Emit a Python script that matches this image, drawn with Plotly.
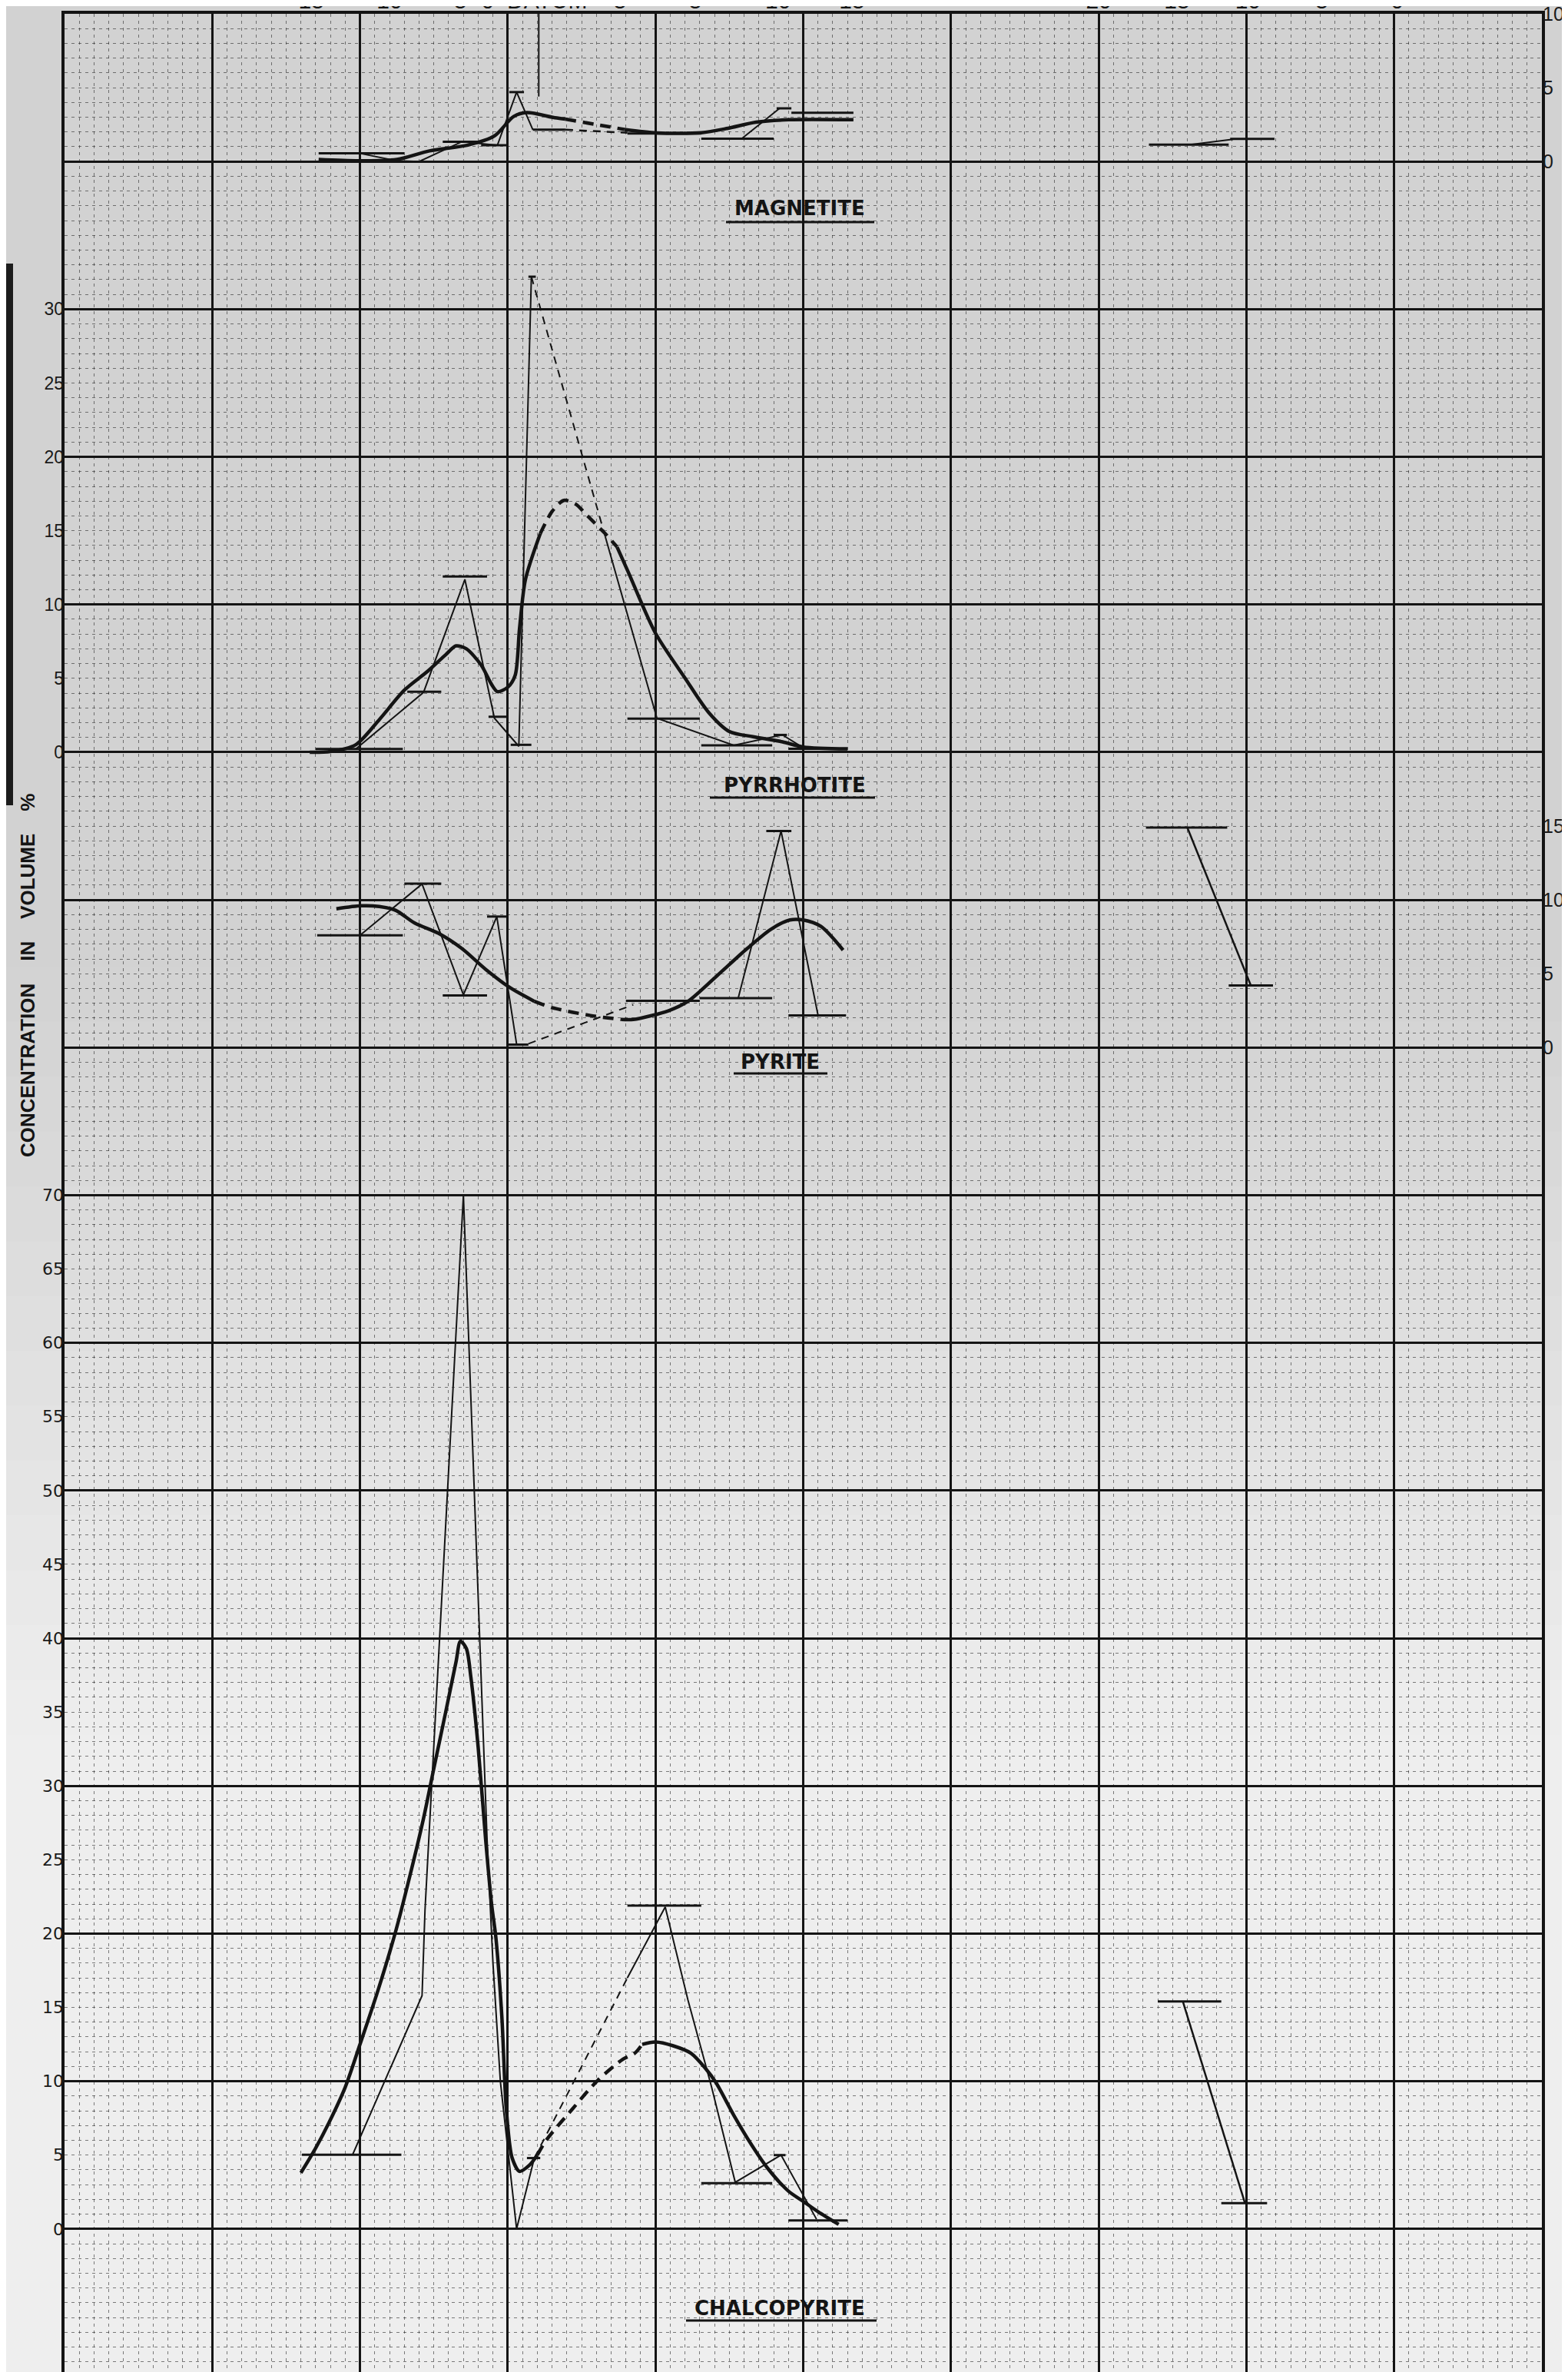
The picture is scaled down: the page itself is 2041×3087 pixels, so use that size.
import plotly.graph_objects as go

W, H = 2041, 3087
ML, MR, MT, MB = 76, 42, 10, 2

# ---------------- data (x = distance along profile, grid units; y = volume %) ----------------
# top distance labels
top_tick_x = [16.7, 22.0, 26.8, 31.8, 37.6, 42.7, 48.3, 53.3, 70.0, 75.3, 80.1, 85.1, 90.2]
top_tick_text = ["15", "10", "5", "0  DATUM", "5", "5", "10", "15", "20", "15", "10", "5", "0"]

# MAGNETITE
mag_bar_x0 = [17.2, 25.6, 28.2, 30.1, 31.7, 38.1, 43.1, 48.2, 49.2, 73.4, 78.9]
mag_bar_x1 = [23.0, 28.2, 30.0, 31.1, 33.9, 43.1, 48.0, 49.2, 53.4, 78.8, 81.9]
mag_bar_y = [0.55, 1.34, 1.10, 4.70, 2.15, 1.90, 1.55, 3.60, 3.30, 1.14, 1.53]
mag_thin_x = [20.0, 22.5, 24.0, 26.9, 29.3, 30.6, 31.7]
mag_thin_y = [0.55, 0.05, 0.0, 1.34, 1.10, 4.70, 2.15]
mag_thin2_x = [45.8, 48.4]
mag_thin2_y = [1.52, 3.60]
mag_thin3_x = [76.2, 79.1]
mag_thin3_y = [1.14, 1.50]
mag_gap_x = [33.9, 38.1]
mag_gap_y = [2.15, 1.95]
mag_mark_x = [32.1]
mag_mark_y = [4.4]
mag_curve1_x = [17.2, 19.9, 22.5, 24.7, 27.3, 29.1, 30.4, 31.3, 33.2, 33.9]
mag_curve1_y = [0.14, 0.05, 0.14, 0.72, 1.11, 1.73, 3.05, 3.31, 2.96, 2.87]
mag_curve_gap_x = [33.9, 35.9, 37.9]
mag_curve_gap_y = [2.87, 2.52, 2.17]
mag_curve2_x = [37.9, 40.1, 43.1, 44.9, 46.8, 49.0, 53.4]
mag_curve2_y = [2.17, 1.94, 1.95, 2.25, 2.66, 2.83, 2.83]

# PYRRHOTITE
pyr_bar_x0 = [17.0, 23.2, 25.6, 28.7, 30.2, 31.4, 38.1, 43.1, 48.0, 49.0]
pyr_bar_x1 = [22.9, 25.5, 28.6, 30.0, 31.6, 31.9, 43.0, 47.9, 48.9, 53.0]
pyr_bar_y = [0.22, 4.1, 11.9, 2.4, 0.5, 32.2, 2.27, 0.47, 1.17, 0.23]
pyr_thin_x = [19.7, 24.3, 27.1, 29.1, 30.75, 31.6]
pyr_thin_y = [0.2, 4.05, 11.7, 2.3, 0.4, 32.2]
pyr_gap_x = [31.6, 36.6]
pyr_gap_y = [32.2, 14.6]
pyr_thin2_x = [36.6, 40.1, 45.3, 48.6, 50.0]
pyr_thin2_y = [14.6, 2.3, 0.47, 1.17, 0.3]
pyr_curve1_x = [16.6, 18.0, 19.7, 21.3, 23.0, 24.6, 25.8, 26.5, 27.2, 28.2, 28.9, 29.3, 30.0, 30.5, 30.8, 31.2, 32.2]
pyr_curve1_y = [0.0, 0.05, 0.5, 2.2, 4.2, 5.5, 6.6, 7.2, 7.0, 5.9, 4.6, 4.1, 4.4, 5.2, 8.4, 11.7, 14.8]
pyr_curve_gap_x = [32.2, 33.0, 33.8, 34.6, 35.4, 36.6, 37.4]
pyr_curve_gap_y = [14.8, 16.3, 17.05, 16.8, 16.0, 14.8, 13.9]
pyr_curve2_x = [37.4, 38.2, 40.0, 42.0, 43.6, 45.0, 46.6, 48.6, 50.0, 53.0]
pyr_curve2_y = [13.9, 12.1, 8.06, 5.02, 2.69, 1.40, 1.05, 0.70, 0.35, 0.23]

# PYRITE
pyt_bar_x0 = [17.1, 23.0, 25.6, 28.6, 30.0, 38.0, 43.0, 47.5, 49.0, 73.2, 78.8]
pyt_bar_x1 = [22.9, 25.5, 28.6, 30.0, 31.4, 43.0, 47.9, 49.2, 52.9, 78.7, 81.8]
pyt_bar_y = [7.6, 11.1, 3.53, 8.87, 0.2, 3.17, 3.34, 14.66, 2.17, 14.9, 4.2]
pyt_thin_x = [20.0, 24.2, 27.0, 29.26, 30.6]
pyt_thin_y = [7.6, 11.08, 3.57, 8.87, 0.23]
pyt_gap_x = [31.4, 38.5]
pyt_gap_y = [0.26, 2.9]
pyt_thin2_x = [45.6, 48.5, 51.0]
pyt_thin2_y = [3.34, 14.66, 2.2]
pyt_thin3_x = [76.0, 80.3]
pyt_thin3_y = [14.9, 4.2]
pyt_curve1_x = [18.4, 20.1, 21.3, 22.4, 23.7, 25.3, 26.9, 28.5, 30.1, 31.8]
pyt_curve1_y = [9.4, 9.6, 9.55, 9.3, 8.43, 7.74, 6.7, 5.3, 4.09, 3.13]
pyt_curve_gap_x = [31.8, 33.0, 35.6, 37.7]
pyt_curve_gap_y = [3.13, 2.7, 2.17, 1.9]
pyt_curve2_x = [37.7, 38.5, 40.9, 42.2, 44.1, 46.2, 47.8, 49.1, 50.0, 51.2, 52.7]
pyt_curve2_y = [1.9, 1.9, 2.5, 3.13, 4.8, 6.7, 8.0, 8.64, 8.64, 8.2, 6.6]

# CHALCOPYRITE
cpy_bar_x0 = [16.07, 31.3, 38.1, 43.1, 48.0, 49.0, 74.0, 78.3]
cpy_bar_x1 = [22.8, 32.2, 43.1, 47.9, 48.8, 53.0, 78.3, 81.4]
cpy_bar_y = [5.03, 4.8, 21.9, 3.1, 5.0, 0.57, 15.4, 1.75]
cpy_thin_x = [19.5, 24.2, 24.4, 27.0, 28.6, 29.0, 29.5, 30.0, 30.6, 31.8]
cpy_thin_y = [5.03, 15.8, 21.6, 70.0, 26.4, 18.0, 10.0, 5.5, 0.0, 4.8]
cpy_gap_x = [31.8, 38.1]
cpy_gap_y = [4.8, 17.0]
cpy_thin2_x = [38.1, 40.66, 42.2, 43.8, 45.4, 48.5, 50.9]
cpy_thin2_y = [17.0, 21.8, 15.5, 9.6, 3.16, 5.0, 0.66]
cpy_thin3_x = [75.7, 79.9]
cpy_thin3_y = [15.4, 1.75]
cpy_curve1_x = [16.0, 16.9, 17.9, 19.0, 20.0, 21.2, 22.4, 23.4, 24.3, 25.0, 25.8, 26.5, 26.8, 27.2, 27.5,
                28.0, 28.5, 28.9, 29.2, 29.6, 29.9, 30.3, 30.8, 31.45, 32.0]
cpy_curve1_y = [3.8, 5.3, 7.2, 9.6, 12.5, 16.1, 20.1, 24.0, 27.8, 31.2, 35.0, 38.4, 39.8, 39.3, 37.4,
                32.6, 26.4, 22.05, 19.7, 14.4, 8.15, 4.8, 3.9, 4.3, 5.0]
cpy_curve_gap_x = [32.0, 32.6, 34.4, 36.1, 37.8, 38.6, 39.1]
cpy_curve_gap_y = [5.0, 6.0, 8.15, 10.07, 11.5, 11.9, 12.5]
cpy_curve2_x = [39.1, 40.0, 41.2, 42.4, 43.4, 44.1, 45.3, 46.5, 47.6, 49.0, 50.0, 51.0, 52.4]
cpy_curve2_y = [12.5, 12.66, 12.4, 11.9, 10.85, 9.9, 7.7, 5.7, 4.1, 2.56, 1.87, 1.17, 0.31]

# panel axis labels
mag_ticks = [0, 5, 10]
pyr_ticks = [0, 5, 10, 15, 20, 25, 30]
pyt_ticks = [0, 5, 10, 15]
cpy_ticks = [0, 5, 10, 15, 20, 25, 30, 35, 40, 45, 50, 55, 60, 65, 70]

# ---------------- figure ----------------
INK = "#141414"
fig = go.Figure()


def line(x, y, ax, width, dash="solid", smooth=False):
    ln = dict(color=INK, width=width, dash=dash)
    if smooth:
        ln.update(shape="spline", smoothing=0.8)
    fig.add_trace(go.Scatter(x=x, y=y, yaxis=ax, mode="lines", hoverinfo="skip",
                             line=ln, showlegend=False))


def bars(x0, x1, v, ax, width=3):
    xs, ys = [], []
    for a, b, c in zip(x0, x1, v):
        xs += [a, b, None]
        ys += [c, c, None]
    line(xs, ys, ax, width)


def markers(xm, ym, top, ax):
    xs, ys = [], []
    for a, b in zip(xm, ym):
        xs += [a, a, None]
        ys += [top, b, None]
    line(xs, ys, ax, 2)


THIN, THICK = 2, 4.5
DASH_T = "10px,8px"
DASH_K = "14px,9px"

# base (grid) axis helper traces
fig.add_trace(go.Scatter(x=[0, 100], y=[-10, 150], mode="markers", marker=dict(opacity=0),
                         hoverinfo="skip", showlegend=False))
fig.add_trace(go.Scatter(x=[0, 100], y=[-10, 150], xaxis="x2", mode="markers", marker=dict(opacity=0),
                         hoverinfo="skip", showlegend=False))

# magnetite (y2)
bars(mag_bar_x0, mag_bar_x1, mag_bar_y, "y2")
line(mag_thin_x, mag_thin_y, "y2", THIN)
line(mag_thin2_x, mag_thin2_y, "y2", THIN)
line(mag_thin3_x, mag_thin3_y, "y2", THIN)
line(mag_gap_x, mag_gap_y, "y2", 2.5, DASH_T)
markers(mag_mark_x, mag_mark_y, 10, "y2")
line(mag_curve1_x, mag_curve1_y, "y2", THICK, smooth=True)
line(mag_curve_gap_x, mag_curve_gap_y, "y2", THICK, DASH_K, smooth=True)
line(mag_curve2_x, mag_curve2_y, "y2", THICK, smooth=True)

# pyrrhotite (y3)
bars(pyr_bar_x0, pyr_bar_x1, pyr_bar_y, "y3")
line(pyr_thin_x, pyr_thin_y, "y3", THIN)
line(pyr_gap_x, pyr_gap_y, "y3", THIN, DASH_T)
line(pyr_thin2_x, pyr_thin2_y, "y3", THIN)
line(pyr_curve1_x, pyr_curve1_y, "y3", THICK, smooth=True)
line(pyr_curve_gap_x, pyr_curve_gap_y, "y3", THICK, DASH_K, smooth=True)
line(pyr_curve2_x, pyr_curve2_y, "y3", THICK, smooth=True)

# pyrite (y4)
bars(pyt_bar_x0, pyt_bar_x1, pyt_bar_y, "y4")
line(pyt_thin_x, pyt_thin_y, "y4", THIN)
line(pyt_gap_x, pyt_gap_y, "y4", THIN, DASH_T)
line(pyt_thin2_x, pyt_thin2_y, "y4", THIN)
line(pyt_thin3_x, pyt_thin3_y, "y4", 2.5)
line(pyt_curve1_x, pyt_curve1_y, "y4", THICK, smooth=True)
line(pyt_curve_gap_x, pyt_curve_gap_y, "y4", THICK, DASH_K, smooth=True)
line(pyt_curve2_x, pyt_curve2_y, "y4", THICK, smooth=True)

# chalcopyrite (y5)
bars(cpy_bar_x0, cpy_bar_x1, cpy_bar_y, "y5")
line(cpy_thin_x, cpy_thin_y, "y5", THIN)
line(cpy_gap_x, cpy_gap_y, "y5", THIN, DASH_T)
line(cpy_thin2_x, cpy_thin2_y, "y5", THIN)
line(cpy_thin3_x, cpy_thin3_y, "y5", 2.5)
line(cpy_curve1_x, cpy_curve1_y, "y5", THICK, smooth=True)
line(cpy_curve_gap_x, cpy_curve_gap_y, "y5", THICK, DASH_K, smooth=True)
line(cpy_curve2_x, cpy_curve2_y, "y5", THICK, smooth=True)

GRID_MINOR = dict(dtick=1, showgrid=True, gridcolor="rgba(25,25,25,0.55)", gridwidth=1,
                  griddash="4px,5px", ticks="")

TICKFONT = dict(family="Liberation Sans, Arial, sans-serif", size=23, color="#1a1a1a")


def panel_axis(rng, side, ticks, font=TICKFONT):
    return dict(overlaying="y", side=side, range=rng, tickmode="array", tickvals=ticks,
                ticktext=[str(t) for t in ticks], showgrid=False, zeroline=False, showline=False,
                ticks="", tickfont=font, fixedrange=True, ticklabeloverflow="allow")


def px_x(p):
    return (p - ML) / (W - ML - MR)


def px_y(p):
    return (H - MB - p) / (H - MT - MB)


def mix(c0, c1, t):
    return "#%02x%02x%02x" % tuple(round(a + (b - a) * t) for a, b in zip(c0, c1))


# paper tone: grey in upper part, fading to near-white lower down
shapes = [dict(type="rect", xref="paper", yref="paper", x0=px_x(0), x1=px_x(W), y0=px_y(0), y1=px_y(1250),
               fillcolor="#d2d2d2", line_width=0, layer="below")]
nb = 14
y_a, y_b = 1250, 2250
for i in range(nb):
    ya = y_a + (y_b - y_a) * i / nb
    yb = y_a + (y_b - y_a) * (i + 1) / nb
    shapes.append(dict(type="rect", xref="paper", yref="paper", x0=px_x(0), x1=px_x(W),
                       y0=px_y(ya), y1=px_y(yb + 1), fillcolor=mix((210, 210, 210), (238, 238, 238), (i + 0.5) / nb),
                       line_width=0, layer="below"))
shapes.append(dict(type="rect", xref="paper", yref="paper", x0=px_x(0), x1=px_x(W), y0=px_y(y_b), y1=px_y(H),
                   fillcolor="#eeeeee", line_width=0, layer="below"))
shapes.append(dict(type="rect", xref="paper", yref="paper", x0=px_x(0), x1=px_x(9), y0=px_y(335), y1=px_y(1040),
                   fillcolor="#1c1c1c", line_width=0, layer="below"))

annotations = []
titles = [("MAGNETITE", 1033, 263, 937, 1130, 281),
          ("PYRRHOTITE", 1026, 1014, 916, 1131, 1030),
          ("PYRITE", 1007, 1374, 947, 1069, 1389),
          ("CHALCOPYRITE", 1007, 2996, 885, 1133, 3012)]
for name, cx, cy, u0, u1, uy in titles:
    annotations.append(dict(text="<b>" + name + "</b>", xref="paper", yref="paper", x=px_x(cx), y=px_y(cy),
                            showarrow=False, xanchor="center", yanchor="middle",
                            font=dict(family="DejaVu Sans, sans-serif", size=26, color=INK)))
    shapes.append(dict(type="line", xref="paper", yref="paper", x0=px_x(u0), x1=px_x(u1), y0=px_y(uy), y1=px_y(uy),
                       line=dict(color=INK, width=3)))

annotations.append(dict(text="<b>CONCENTRATION&#160;&#160;&#160; IN &#160;&#160;&#160;VOLUME &#160;&#160;&#160;%</b>",
                        xref="paper", yref="paper",
                        x=px_x(28), y=px_y(1262), textangle=-90, showarrow=False,
                        xanchor="center", yanchor="middle",
                        font=dict(family="Liberation Sans, Arial, sans-serif", size=26, color=INK)))

fig.update_layout(
    width=W, height=H, margin=dict(l=ML, r=MR, t=MT, b=MB, autoexpand=False),
    paper_bgcolor="#d6d6d6", plot_bgcolor="#d6d6d6", showlegend=False,
    xaxis=dict(range=[0, 100], dtick=10, tick0=0, showgrid=True, gridcolor=INK, gridwidth=2.8,
               minor=GRID_MINOR, showticklabels=False, zeroline=False, showline=True, mirror=True,
               linecolor=INK, linewidth=3.5, ticks="", fixedrange=True),
    xaxis2=dict(overlaying="x", side="top", range=[0, 100], tickmode="array", tickvals=top_tick_x,
                ticktext=top_tick_text, showgrid=False, zeroline=False, showline=False, ticks="",
                tickfont=dict(family="Liberation Sans, Arial, sans-serif", size=30, color=INK), fixedrange=True,
                ticklabeloverflow="allow"),
    yaxis=dict(range=[-10, 150], dtick=10, tick0=0, showgrid=True, gridcolor=INK, gridwidth=2.8,
               minor=GRID_MINOR, showticklabels=False, zeroline=False, showline=True, mirror=True,
               linecolor=INK, linewidth=3.5, ticks="", fixedrange=True),
    yaxis2=panel_axis([-150, 10], "right", mag_ticks, dict(TICKFONT, size=25)),
    yaxis3=panel_axis([-110, 50], "left", pyr_ticks),
    yaxis4=panel_axis([-90, 70], "right", pyt_ticks, dict(TICKFONT, size=25)),
    yaxis5=panel_axis([-10, 150], "left", cpy_ticks,
                      dict(family="DejaVu Sans, sans-serif", size=22, color="#1a1a1a")),
    shapes=shapes, annotations=annotations,
)

fig.write_html("out.html")
